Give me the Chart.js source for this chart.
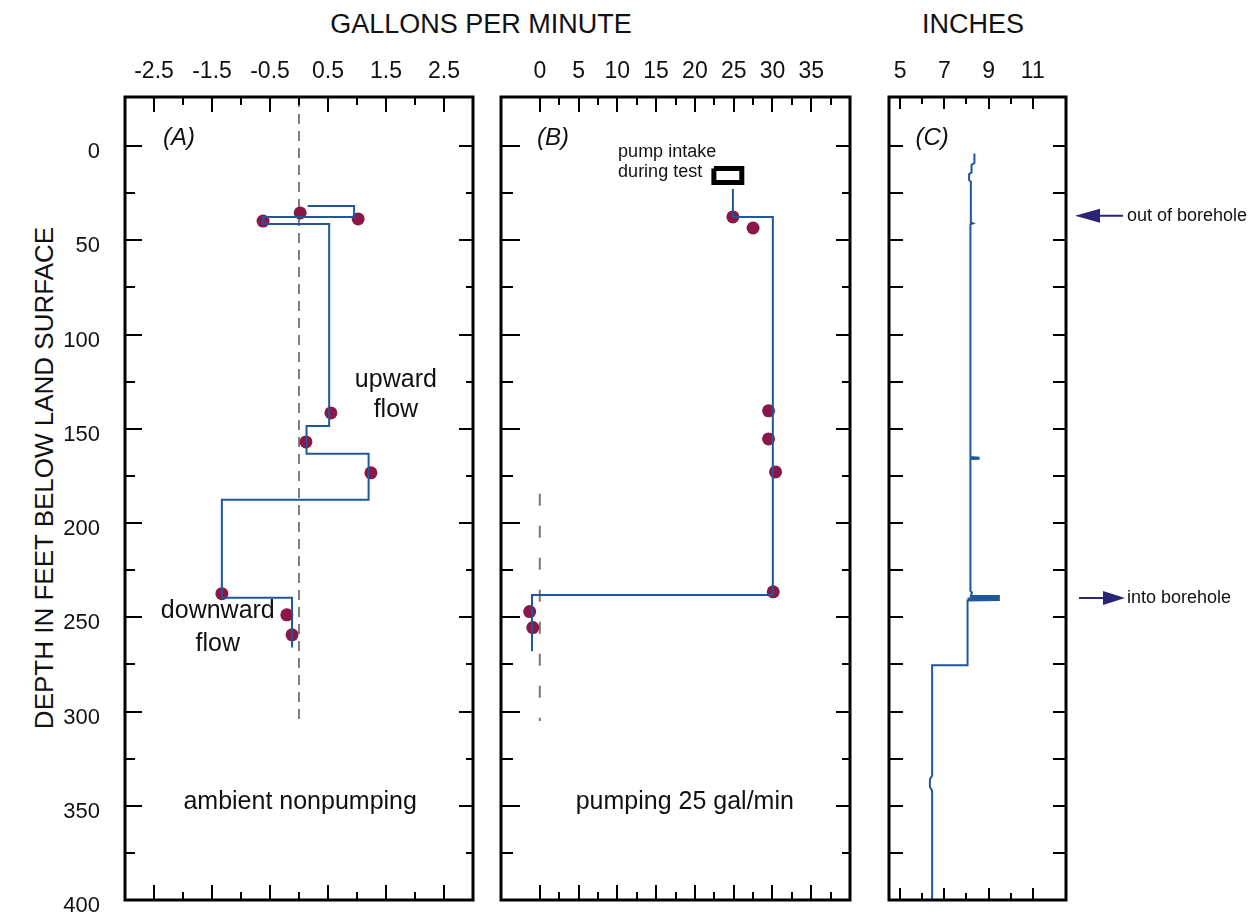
<!DOCTYPE html>
<html>
<head>
<meta charset="utf-8">
<script src="https://cdn.jsdelivr.net/npm/chart.js@4.4.1/dist/chart.umd.min.js"></script>
<style>
  body { margin: 0; background: #fff; width: 1258px; height: 914px; position: relative; overflow: hidden;
         font-family: "Liberation Sans", Arial, Helvetica, sans-serif; color: #111; }
  canvas { position: absolute; top: 0; }
  .head { position: absolute; top: 11px; font-size: 27px; line-height: 27px; white-space: nowrap; transform: translateX(-50%); }
  .ytitle { position: absolute; left: 44px; top: 478px; font-size: 26px; line-height: 26px; white-space: nowrap;
            transform: translate(-50%, -50%) rotate(-90deg); }
</style>
</head>
<body>
<div class="head" style="left:481px">GALLONS PER MINUTE</div>
<div class="head" style="left:973px">INCHES</div>
<div class="ytitle">DEPTH IN FEET BELOW LAND SURFACE</div>
<canvas id="chartA" width="490" height="914" style="left:0"></canvas>
<canvas id="chartB" width="380" height="914" style="left:490px"></canvas>
<canvas id="chartC" width="388" height="914" style="left:870px"></canvas>
<script>
// depth axis (feet below land surface)
const depthTicks = [0, 25, 50, 75, 100, 125, 150, 175, 200, 225, 250, 275, 300, 325, 350, 375, 400];
const depthLabels = [0, 50, 100, 150, 200, 250, 300, 350, 400];

// (A) ambient nonpumping, gal/min
const gpmTicksA = [-2.5, -2, -1.5, -1, -0.5, 0, 0.5, 1, 1.5, 2, 2.5];
const gpmLabelsA = [-2.5, -1.5, -0.5, 0.5, 1.5, 2.5];
const ambLineX = [0.15, 0.95, 0.95, -0.62, -0.62, 0.52, 0.52, 0.13, 0.13, 1.2, 1.2, -1.33, -1.33, -0.12, -0.12];
const ambLineDepth = [31.8, 31.8, 37.6, 37.6, 41.4, 41.4, 148.5, 148.5, 163.3, 163.3, 187.7, 187.7, 239.7, 239.7, 266];
const ambPtX = [0.02, 1.02, -0.62, 0.55, 0.12, 1.24, -1.33, -0.21, -0.12];
const ambPtDepth = [35.5, 38.7, 39.8, 141.6, 157, 173.4, 237.5, 248.7, 259.3];
const ambZeroX = [0, 0];
const ambZeroDepth = [-26, 305];

// (B) pumping 25 gal/min
const gpmTicksB = [0, 2.5, 5, 7.5, 10, 12.5, 15, 17.5, 20, 22.5, 25, 27.5, 30, 32.5, 35, 37.5];
const gpmLabelsB = [0, 5, 10, 15, 20, 25, 30, 35];
const pumpLineX = [24.9, 24.9, 30.05, 30.05, -1.0, -1.0];
const pumpLineDepth = [22.8, 37.6, 37.6, 238.2, 238.2, 268];
const pumpPtX = [24.9, 27.5, 29.5, 29.5, 30.4, 30.1, -1.3, -0.9];
const pumpPtDepth = [37.6, 43.5, 140.5, 155.4, 172.9, 236.5, 247, 255.5];
const pumpZeroX = [0, 0];
const pumpZeroDepth = [184.5, 305];
const intakeX = [22.45, 26.05, 26.05, 22.45, 22.45];
const intakeDepth = [11.9, 11.9, 19.4, 19.4, 11.9];

// (C) caliper, inches
const inchTicks = [5, 6, 7, 8, 9, 10, 11];
const inchLabels = [5, 7, 9, 11];
const caliperIn = [8.36, 8.36, 8.23, 8.23, 8.12, 8.12, 8.2, 8.2, 8.3, 8.18, 8.18, 8.55, 8.55, 8.18, 8.18, 8.25, 8.18, 9.42, 9.42, 8.05, 8.05, 6.45, 6.45, 6.35, 6.35, 6.45, 6.45];
const caliperDepth = [4, 9, 10, 14, 15, 18, 19, 40.5, 41, 41.5, 165, 165.3, 165.9, 166, 236, 237, 239.3, 239.3, 240.3, 240.6, 275.5, 275.5, 334, 336, 340, 342, 400];

const lineBlue = '#1f579c';
const dotRed = '#8c1648';
const arrowBlue = '#2a2474';

Chart.defaults.font.family = "'Liberation Sans', Arial, Helvetica, sans-serif";
Chart.defaults.color = '#111';
Chart.defaults.animation = false;

const pts = (xs, ds) => xs.map((v, i) => ({x: v, y: ds[i]}));

function xAxis(min, max, ticks, labels) {
  return {
    type: 'linear', position: 'top', min: min, max: max,
    grid: {display: false}, border: {display: false},
    afterBuildTicks: s => { s.ticks = ticks.map(v => ({value: v})); },
    afterFit: s => { s.height = 97; },
    ticks: {autoSkip: false, maxRotation: 0, padding: 4, font: {size: 23},
            callback: v => labels.includes(v) ? String(v) : ''}
  };
}

function yAxis(show) {
  const ax = {
    type: 'linear', reverse: true, min: -26, max: 400, display: show,
    grid: {display: false}, border: {display: false},
    afterBuildTicks: s => { s.ticks = depthTicks.map(v => ({value: v})); },
    ticks: {autoSkip: false, padding: 17, labelOffset: 6, font: {size: 22},
            callback: v => depthLabels.includes(v) ? String(v) : ''}
  };
  // fixed width, and no extra room kept for the end labels
  if (show) ax.afterFit = s => { s.width = 125; s.paddingTop = 0; s.paddingBottom = 0; };
  return ax;
}

// frame, inward tick marks and the labels inside each panel
function makeDecor(cfg) {
  return {
    id: 'decor',
    afterDatasetsDraw(chart) {
      const {ctx, chartArea: a, scales: {x, y}} = chart;
      ctx.save();
      ctx.strokeStyle = '#000';
      ctx.lineWidth = 2;
      ctx.beginPath();
      cfg.xTicks.forEach(v => {
        const px = Math.round(x.getPixelForValue(v));
        const len = cfg.xLabels.includes(v) ? cfg.xLen[0] : cfg.xLen[1];
        ctx.moveTo(px, a.top); ctx.lineTo(px, a.top + len);
        ctx.moveTo(px, a.bottom); ctx.lineTo(px, a.bottom - len);
      });
      depthTicks.forEach(v => {
        if (v <= y.min || v >= y.max) return;
        const py = Math.round(y.getPixelForValue(v));
        const major = depthLabels.includes(v);
        ctx.moveTo(a.left, py); ctx.lineTo(a.left + (major ? cfg.yLeft[0] : cfg.yLeft[1]), py);
        ctx.moveTo(a.right, py); ctx.lineTo(a.right - (major ? cfg.yRight[0] : cfg.yRight[1]), py);
      });
      ctx.stroke();
      ctx.lineWidth = 3;
      ctx.strokeRect(a.left, a.top, a.width, a.height);

      ctx.fillStyle = '#111';
      ctx.textBaseline = 'middle';
      cfg.notes.forEach(n => {
        ctx.font = n.font;
        ctx.textAlign = n.align || 'center';
        ctx.fillText(n.text, x.getPixelForValue(n.x), y.getPixelForValue(n.y));
      });
      if (cfg.extra) cfg.extra(chart);
      ctx.restore();
    }
  };
}

const FONT = "'Liberation Sans', Arial, sans-serif";
const baseOpts = (scales, pad) => ({
  responsive: false,
  events: [],
  layout: {padding: pad},
  plugins: {legend: {display: false}, tooltip: {enabled: false}},
  scales: scales
});

// (A)
new Chart(document.getElementById('chartA'), {
  type: 'scatter',
  data: {
    datasets: [
      {data: pts(ambLineX, ambLineDepth), showLine: true, borderColor: lineBlue, borderWidth: 2, pointRadius: 0},
      {data: pts(ambPtX, ambPtDepth), showLine: false, pointRadius: 6.5, pointBorderWidth: 0, backgroundColor: dotRed},
      {data: pts(ambZeroX, ambZeroDepth), showLine: true, borderColor: '#000', borderWidth: 1, borderDash: [10, 7], pointRadius: 0}
    ]
  },
  options: baseOpts({x: xAxis(-3, 3, gpmTicksA, gpmLabelsA), y: yAxis(true)}, {left: 0, right: 17, top: 0, bottom: 14}),
  plugins: [makeDecor({
    xTicks: gpmTicksA, xLabels: gpmLabelsA, xLen: [15, 8], yLeft: [17, 10], yRight: [14, 7],
    notes: [
      {text: '(A)', x: -2.07, y: -4.2, font: 'italic 24px ' + FONT},
      {text: 'upward', x: 1.67, y: 124, font: '25px ' + FONT},
      {text: 'flow', x: 1.67, y: 140, font: '25px ' + FONT},
      {text: 'downward', x: -1.4, y: 247, font: '25px ' + FONT},
      {text: 'flow', x: -1.4, y: 264, font: '25px ' + FONT},
      {text: 'ambient nonpumping', x: 0.02, y: 348, font: '25px ' + FONT}
    ]
  })]
});

// (B)
new Chart(document.getElementById('chartB'), {
  type: 'scatter',
  data: {
    datasets: [
      {data: pts(pumpLineX, pumpLineDepth), showLine: true, borderColor: lineBlue, borderWidth: 2, pointRadius: 0},
      {data: pts(pumpPtX, pumpPtDepth), showLine: false, pointRadius: 6.5, pointBorderWidth: 0, backgroundColor: dotRed},
      {data: pts(intakeX, intakeDepth), showLine: true, borderColor: '#000', borderWidth: 5, pointRadius: 0, borderJoinStyle: 'miter'},
      {data: pts(pumpZeroX, pumpZeroDepth), showLine: true, borderColor: '#777', borderWidth: 2, borderDash: [12, 20], pointRadius: 0}
    ]
  },
  options: baseOpts({x: xAxis(-5, 40, gpmTicksB, gpmLabelsB), y: yAxis(false)}, {left: 11, right: 20, top: 0, bottom: 14}),
  plugins: [makeDecor({
    xTicks: gpmTicksB, xLabels: gpmLabelsB, xLen: [15, 8], yLeft: [19, 12], yRight: [14, 8],
    notes: [
      {text: '(B)', x: 1.7, y: -4.2, font: 'italic 24px ' + FONT},
      {text: 'pump intake', x: 10.1, y: 3.2, font: '18px ' + FONT, align: 'left'},
      {text: 'during test', x: 10.1, y: 13.8, font: '18px ' + FONT, align: 'left'},
      {text: 'pumping 25 gal/min', x: 18.7, y: 348, font: '25px ' + FONT}
    ]
  })]
});

// (C)
new Chart(document.getElementById('chartC'), {
  type: 'scatter',
  data: {
    datasets: [
      {data: pts(caliperIn, caliperDepth), showLine: true, borderColor: lineBlue, borderWidth: 2, pointRadius: 0,
       segment: {borderWidth: c => (caliperIn[c.p0DataIndex] > 9 || caliperIn[c.p1DataIndex] > 9) ? 4 : 2}}
    ]
  },
  options: baseOpts({x: xAxis(4.5, 12.5, inchTicks, inchLabels), y: yAxis(false)}, {left: 19, right: 192, top: 0, bottom: 14}),
  plugins: [makeDecor({
    xTicks: inchTicks, xLabels: inchLabels, xLen: [12, 7], yLeft: [14, 14], yRight: [13, 13],
    notes: [
      {text: '(C)', x: 6.45, y: -4.2, font: 'italic 24px ' + FONT}
    ],
    extra: chart => {
      const {ctx, chartArea: a, scales: {y}} = chart;
      ctx.strokeStyle = arrowBlue;
      ctx.fillStyle = arrowBlue;
      ctx.lineWidth = 2;
      // out of borehole (points left, toward the well)
      let py = y.getPixelForValue(37);
      ctx.beginPath(); ctx.moveTo(a.right + 34, py); ctx.lineTo(a.right + 57, py); ctx.stroke();
      ctx.beginPath(); ctx.moveTo(a.right + 9, py); ctx.lineTo(a.right + 34, py - 7); ctx.lineTo(a.right + 34, py + 7); ctx.closePath(); ctx.fill();
      // into borehole (points right)
      py = y.getPixelForValue(239.8);
      ctx.beginPath(); ctx.moveTo(a.right + 13, py); ctx.lineTo(a.right + 37, py); ctx.stroke();
      ctx.beginPath(); ctx.moveTo(a.right + 59, py); ctx.lineTo(a.right + 37, py - 7); ctx.lineTo(a.right + 37, py + 7); ctx.closePath(); ctx.fill();

      ctx.fillStyle = '#111';
      ctx.font = '18px ' + FONT;
      ctx.textAlign = 'left';
      ctx.textBaseline = 'middle';
      ctx.fillText('out of borehole', a.right + 61, y.getPixelForValue(37));
      ctx.fillText('into borehole', a.right + 61, y.getPixelForValue(239.8));
    }
  })]
});
</script>
</body>
</html>
